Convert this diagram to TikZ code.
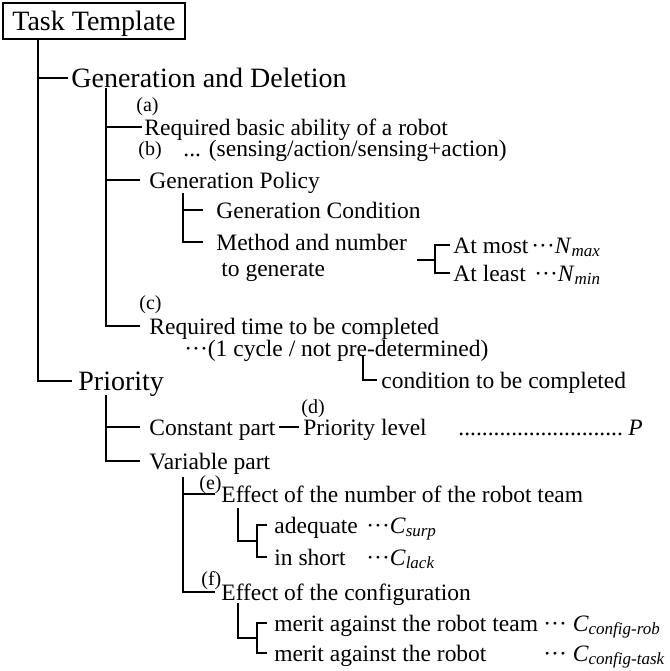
\documentclass[tikz,border=0pt]{standalone}
\usepackage{fontspec}
\setmainfont{Liberation Serif}
\usepackage{tikz}

\newcommand{\idx}[1]{\raisebox{-0.3ex}{\fontsize{8.5}{10}\selectfont\itshape #1}}

\begin{document}
\begin{tikzpicture}[x=0.5pt, y=-0.5pt, line width=1.4pt,
    head/.style={draw, line width=1pt, font=\fontsize{14}{16}\selectfont,
      minimum width=91pt, minimum height=18pt, inner sep=0pt,
      text height=9.7pt, text depth=0pt},
    big/.style={font=\fontsize{14}{16}\selectfont, inner sep=0pt, anchor=west,
      text height=9.7pt, text depth=0pt},
    txt/.style={font=\fontsize{11.75}{14}\selectfont, inner sep=0pt, anchor=west,
      text height=8.1pt, text depth=0pt},
    lbl/.style={font=\fontsize{10}{12}\selectfont, inner sep=0pt, anchor=west,
      text height=7pt, text depth=0pt},
    twig/.style={shorten >=#1}, twig/.default=1pt]

    \useasboundingbox (0,0) rectangle (670,671);

    % header
    \node[head] (task) at (94,21) {Task Template};

    % first level
    \node[big] (gen) at (70,78) {Generation and Deletion};
    \node[big] (prio) at (77,381) {Priority};
    \coordinate (t0) at (38,39);
    \draw[twig=1pt] (t0) |- (gen.west);
    \draw[twig=2.5pt] (t0) |- (prio.west);

    % generation and deletion
    \node[lbl] (la) at (135,104) {(a)};
    \node[txt] (abil) at (143,127) {Required basic ability of a robot};
    \node[lbl] (lb) at (137,148) {(b)};
    \node[txt] (sense) at (182,148) {... (sensing/action/sensing+action)};
    \node[txt] (policy) at (148,180) {Generation Policy};
    \node[txt] (cond) at (215,210) {Generation Condition};
    \node[txt] (method) at (215,242) {Method and number};
    \node[txt] (togen) at (220,268) {to generate};
    \node[lbl] (lc) at (138,302) {(c)};
    \node[txt] (reqtime) at (148,326) {Required time to be completed};
    \node[txt] (cycle) at (183,348) {···(1 cycle / not pre-determined)};
    \node[txt] (compl) at (380,380) {condition to be completed};

    \coordinate (t1) at (106,88);
    \draw[twig=0.5pt] (t1) |- (abil.west);
    \draw[twig=4pt] (t1) |- (policy.west);
    \draw[twig=4pt] (t1) |- (reqtime.west);

    \coordinate (t2) at (183,193);
    \draw[twig=6pt] (t2) |- (cond.west);
    \draw[twig=6pt] (t2) |- (method.west);

    % at most / at least
    \node[txt] (atmost) at (452,245) {At most};
    \node[txt] (nmax) at (530,245) {···\textit{N}\idx{max}};
    \node[txt] (atleast) at (452,273) {At least};
    \node[txt] (nmin) at (533,273) {···\textit{N}\idx{min}};
    \coordinate (mstub) at (417,260);
    \coordinate (bm) at (435,260);
    \draw (mstub) -- (bm);
    \draw[shorten <=1pt, shorten >=1pt] (atmost.west) -| (bm) |- (atleast.west);

    \coordinate (t3) at (363,355);
    \draw[twig=1.5pt] (t3) |- (compl.west);

    % priority
    \node[txt] (constp) at (148,427) {Constant part};
    \node[lbl] (ld) at (300,406) {(d)};
    \node[txt] (plevel) at (302,427) {Priority level};
    \node[txt] (leader) at (457,427) {............................};
    \node[txt] (pval) at (627,427) {\textit{P}};
    \node[txt] (varp) at (148,461) {Variable part};
    \coordinate (t4) at (106,395);
    \draw[twig=4pt] (t4) |- (constp.west);
    \draw[twig=4pt] (t4) |- (varp.west);
    \draw[shorten <=1pt, shorten >=1.5pt] (constp.east) -- (plevel.west);

    % variable part
    \node[lbl] (le) at (198,482) {(e)};
    \node[txt] (effnum) at (220,494) {Effect of the number of the robot team};
    \node[txt] (adeq) at (273,525) {adequate};
    \node[txt] (csurp) at (365,525) {···\textit{C}\idx{surp}};
    \node[txt] (short) at (273,557) {in short};
    \node[txt] (clack) at (365,557) {···\textit{C}\idx{lack}};
    \node[lbl] (lf) at (200,578) {(f)};
    \node[txt] (effconf) at (220,592) {Effect of the configuration};
    \node[txt] (mteam) at (273,623) {merit against the robot team};
    \node[txt] (crob) at (542,623) {··· \textit{C}\idx{config-rob}};
    \node[txt] (mrobot) at (273,653) {merit against the robot};
    \node[txt] (ctask) at (542,653) {··· \textit{C}\idx{config-task}};

    \coordinate (t5) at (183,477);
    \draw[twig=2.5pt] (t5) |- (effnum.west);
    \draw[twig=2.5pt] (t5) |- (effconf.west);

    \coordinate (t6) at (238,508);
    \coordinate (b6) at (257,541);
    \draw (t6) |- (b6);
    \draw[shorten <=3pt, shorten >=3pt] (adeq.west) -| (b6) |- (short.west);

    \coordinate (t7) at (238,603);
    \coordinate (b7) at (257,638);
    \draw (t7) |- (b7);
    \draw[shorten <=3pt, shorten >=3pt] (mteam.west) -| (b7) |- (mrobot.west);

\end{tikzpicture}
\end{document}
